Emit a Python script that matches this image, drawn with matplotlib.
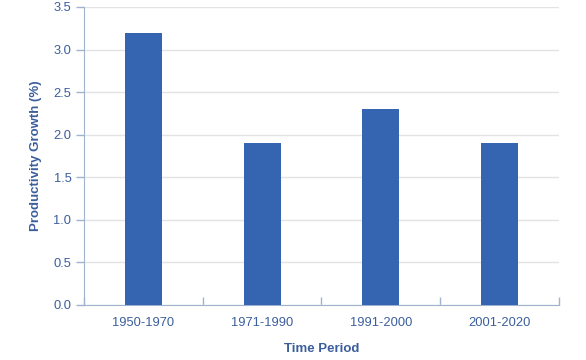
import matplotlib
matplotlib.use("Agg")
import matplotlib.pyplot as plt

# Datos
periodos = ["1950-1970", "1971-1990", "1991-2000", "2001-2020"]
crecimiento = [3.2, 1.9, 2.3, 1.9]
yticks = [0.0, 0.5, 1.0, 1.5, 2.0, 2.5, 3.0, 3.5]

COLOR_BARRA = "#3565b1"
COLOR_TEXTO = "#3b5e9c"
COLOR_EJE = "#9fb3cf"

plt.rcParams["font.family"] = ["Liberation Sans", "DejaVu Sans"]

fig = plt.figure(figsize=(5.86, 3.6), dpi=100)
ax = fig.add_axes([0.1433, 0.1528, 0.8106, 0.8278])

x = list(range(len(periodos)))
ax.bar(x, crecimiento, width=0.31, color=COLOR_BARRA, zorder=3)

ax.set_xlim(-0.5, len(periodos) - 0.5)
ax.set_ylim(0, 3.5)
ax.set_yticks(yticks)
ax.set_yticklabels([f"{v:.1f}" for v in yticks], fontsize=9.3, color=COLOR_TEXTO)
ax.set_xticks(x)
ax.set_xticklabels(periodos, fontsize=9.3, color=COLOR_TEXTO)

# Ticks en los límites de categoría
ax.set_xticks([i - 0.5 for i in range(len(periodos) + 1)], minor=True)
ax.tick_params(axis="x", which="major", length=0, pad=9)
ax.tick_params(axis="x", which="minor", direction="in", length=6, color=COLOR_EJE, width=1)
ax.tick_params(axis="y", length=6, color=COLOR_EJE, width=1, pad=3)

ax.yaxis.grid(True, color="#e3e3e3", linewidth=1, zorder=0)
for lado in ["top", "right"]:
    ax.spines[lado].set_visible(False)
ax.spines["left"].set_color(COLOR_EJE)
ax.spines["bottom"].set_color(COLOR_EJE)

ax.set_xlabel("Time Period", fontsize=9.5, fontweight="bold", color=COLOR_TEXTO, labelpad=10)
ax.set_ylabel("Productivity Growth (%)", fontsize=9.5, fontweight="bold", color=COLOR_TEXTO, labelpad=8)

fig.savefig("out.png", dpi=100)
plt.close(fig)
